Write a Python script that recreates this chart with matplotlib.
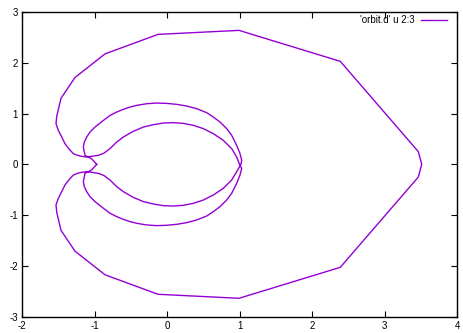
import matplotlib.pyplot as plt

# orbit path (x, y), in drawing order
orbit_x = [-0.97, -1.04, -1.131,
           -1.154, -1.14, -1.108, -1.06, -0.993, -0.9, -0.79, -0.694, -0.603, -0.51, -0.418, -0.28, -0.142,
           -0.004, 0.134, 0.272, 0.41, 0.548, 0.639, 0.731, 0.823, 0.892, 0.961, 1.007, 1.03, 1.02,
           0.961, 0.892, 0.777, 0.639, 0.501, 0.363, 0.225, 0.087, -0.051, -0.189, -0.327, -0.465, -0.603,
           -0.694, -0.786, -0.87, -0.947, -1.108,
           -1.177, -1.23, -1.292, -1.35, -1.407, -1.452, -1.499, -1.531, -1.52, -1.462, -1.269, -0.855,
           -0.124, 0.993, 2.39, 3.466, 3.513,
           3.466, 2.39, 0.993, -0.124, -0.855, -1.269, -1.462, -1.52, -1.531, -1.499, -1.452, -1.407,
           -1.35, -1.292, -1.23, -1.177, -1.108,
           -0.947, -0.87, -0.786, -0.694, -0.603, -0.465, -0.327, -0.189, -0.051, 0.087, 0.225, 0.363,
           0.501, 0.639, 0.777, 0.892, 0.961, 1.0,
           1.03, 1.007, 0.961, 0.892, 0.823, 0.731, 0.639, 0.548, 0.41, 0.272, 0.134, -0.004, -0.142,
           -0.28, -0.418, -0.51, -0.603, -0.694, -0.79, -0.9, -0.993, -1.06, -1.108, -1.14, -1.154,
           -1.131, -1.04, -0.97]
orbit_y = [0.0, 0.11, 0.177,
           0.341, 0.44, 0.537, 0.64, 0.734, 0.84, 0.96, 1.03, 1.083, 1.128, 1.161, 1.194, 1.207,
           1.2, 1.181, 1.148, 1.096, 1.017, 0.931, 0.833, 0.703, 0.571, 0.374, 0.21, 0.08, 0.0,
           -0.144, -0.309, -0.472, -0.604, -0.703, -0.768, -0.807, -0.821, -0.813, -0.781, -0.734, -0.65, -0.537,
           -0.439, -0.309, -0.22, -0.177, -0.144,
           -0.157, -0.175, -0.211, -0.3, -0.407, -0.537, -0.669, -0.8, -0.95, -1.3, -1.71, -2.175,
           -2.559, -2.638, -2.028, -0.25, 0.0,
           0.25, 2.028, 2.638, 2.559, 2.175, 1.71, 1.3, 0.95, 0.8, 0.669, 0.537, 0.407,
           0.3, 0.211, 0.175, 0.157, 0.144,
           0.177, 0.22, 0.309, 0.439, 0.537, 0.65, 0.734, 0.781, 0.813, 0.821, 0.807, 0.768,
           0.703, 0.604, 0.472, 0.309, 0.144, 0.0,
           -0.08, -0.21, -0.374, -0.571, -0.703, -0.833, -0.931, -1.017, -1.096, -1.148, -1.181, -1.2, -1.207,
           -1.194, -1.161, -1.128, -1.083, -1.03, -0.96, -0.84, -0.734, -0.64, -0.537, -0.44, -0.341,
           -0.177, -0.11, 0.0]

x_ticks = [-2, -1, 0, 1, 2, 3, 4]
y_ticks = [-3, -2, -1, 0, 1, 2, 3]

plt.rcParams['font.family'] = ['Liberation Sans', 'DejaVu Sans']
plt.rcParams['axes.unicode_minus'] = False

fig = plt.figure(figsize=(4.64, 3.33), dpi=100)
ax = fig.add_axes([0.0474, 0.049, 0.9376, 0.915])

ax.plot(orbit_x, orbit_y, color='#9400D3', linewidth=1.0, label="'orbit.d' u 2:3")

ax.set_xlim(-2, 4)
ax.set_ylim(-3, 3)
ax.set_xticks(x_ticks)
ax.set_yticks(y_ticks)
ax.tick_params(direction='in', length=4, width=0.8, top=True, right=True,
               labelsize=7, pad=3)
for s in ax.spines.values():
    s.set_linewidth(1.0)

ax.legend(loc='upper right', bbox_to_anchor=(0.977, 0.99), frameon=False,
          markerfirst=False, fontsize=7, handlelength=2.7, borderaxespad=0,
          borderpad=0, handletextpad=0.6)

plt.savefig('out.png', dpi=100)
